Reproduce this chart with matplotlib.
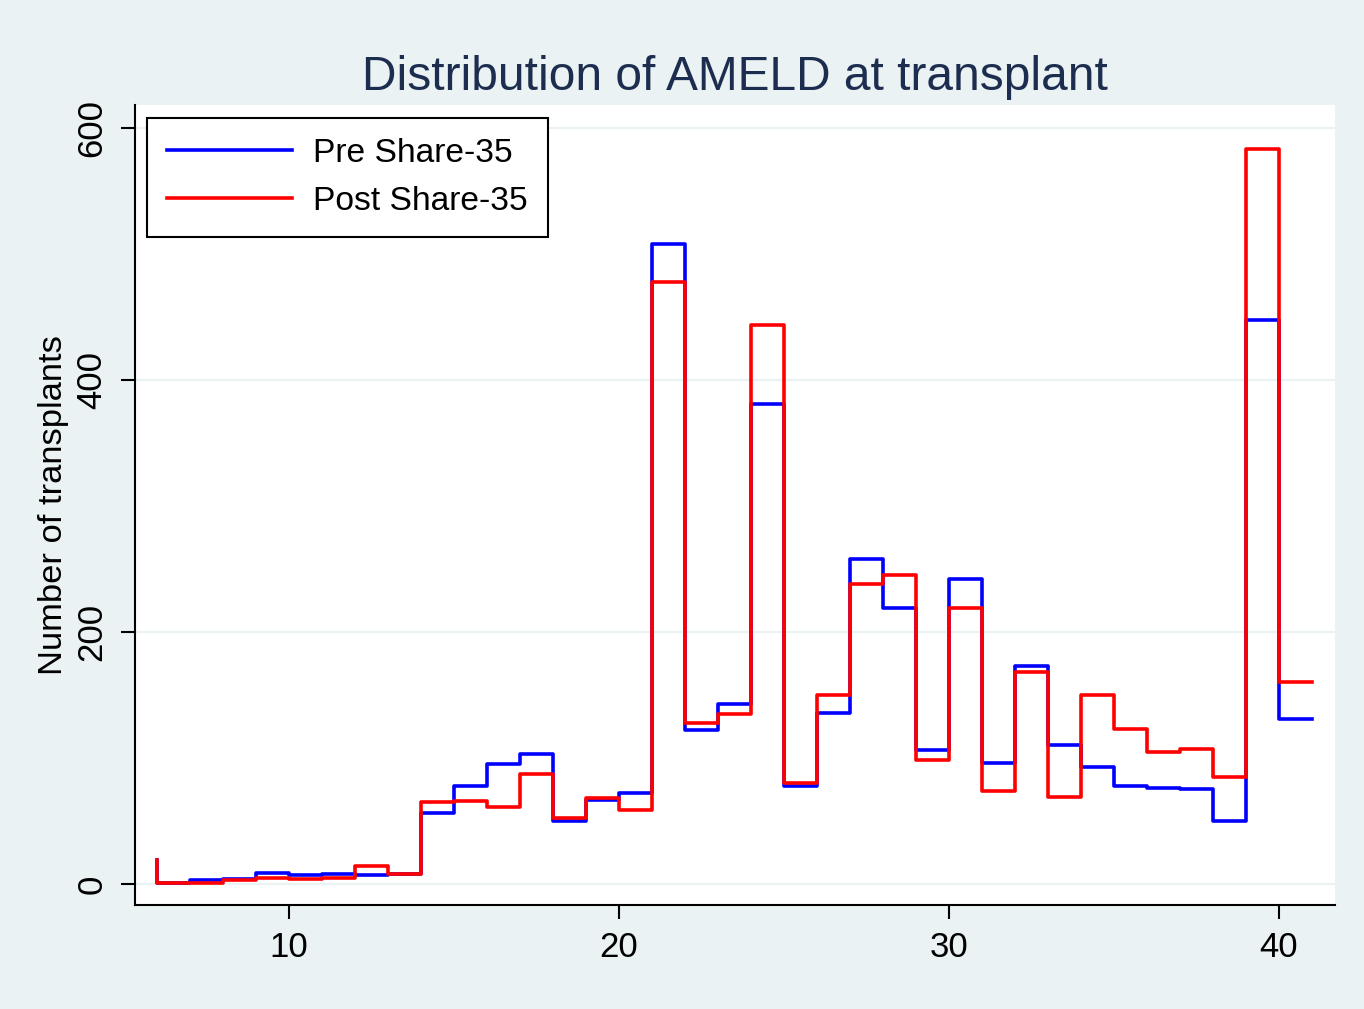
import matplotlib
matplotlib.use("Agg")
import matplotlib.pyplot as plt

plt.rcParams['font.family'] = ['Liberation Sans', 'DejaVu Sans']

# x positions (right edge of each step interval)
ameld = list(range(6, 42))
pre_share35 = [19, 1, 3, 4, 9, 7, 8, 7, 8, 56, 78, 95, 103, 50, 67, 72,
               508, 122, 143, 381, 78, 136, 258, 219, 106, 242, 96, 173,
               110, 93, 78, 76, 75, 50, 448, 131]
post_share35 = [19, 1, 1, 3, 5, 4, 5, 14, 8, 65, 66, 61, 87, 52, 68, 59,
                478, 128, 135, 444, 80, 150, 238, 245, 98, 219, 74, 168,
                69, 150, 123, 105, 107, 85, 583, 160]
xticks = [10, 20, 30, 40]
yticks = [0, 200, 400, 600]

bg = '#eaf2f3'
fig = plt.figure(figsize=(13.64, 10.09), dpi=100, facecolor=bg)
ax = fig.add_axes([135/1364, 1 - 905/1009, 1200/1364, 800/1009])
ax.set_facecolor('white')

for y in yticks:
    ax.axhline(y, color=bg, lw=1.6, zorder=0)

ax.step(ameld, pre_share35, where='pre', color='#0000ff', lw=2.6,
        label='Pre Share-35', zorder=2)
ax.step(ameld, post_share35, where='pre', color='#ff0000', lw=2.6,
        label='Post Share-35', zorder=3)

ax.set_xlim(5.333, 41.697)
ax.set_ylim(-16.7, 618.3)
ax.set_xticks(xticks)
ax.set_yticks(yticks)
ax.tick_params(axis='both', direction='out', length=10, width=1.5,
               labelsize=25, color='black', pad=9)
for lab in ax.get_yticklabels():
    lab.set_rotation(90)
    lab.set_va('center')
for s in ['top', 'right']:
    ax.spines[s].set_visible(False)
for s in ['left', 'bottom']:
    ax.spines[s].set_linewidth(1.5)
    ax.spines[s].set_color('black')

ax.set_ylabel('Number of transplants', fontsize=24.8, labelpad=5)
ax.set_title('Distribution of AMELD at transplant', fontsize=34.5,
             color='#1c2d4f', pad=11)

leg = ax.legend(loc='upper left', bbox_to_anchor=(0.01, 0.984),
                borderaxespad=0, fontsize=24.2, handlelength=3.7,
                handletextpad=0.65, labelspacing=0.5, borderpad=0.6,
                fancybox=False, framealpha=1, edgecolor='black')
leg.get_frame().set_linewidth(1.5)

fig.savefig('out.png', dpi=100, facecolor=bg)
